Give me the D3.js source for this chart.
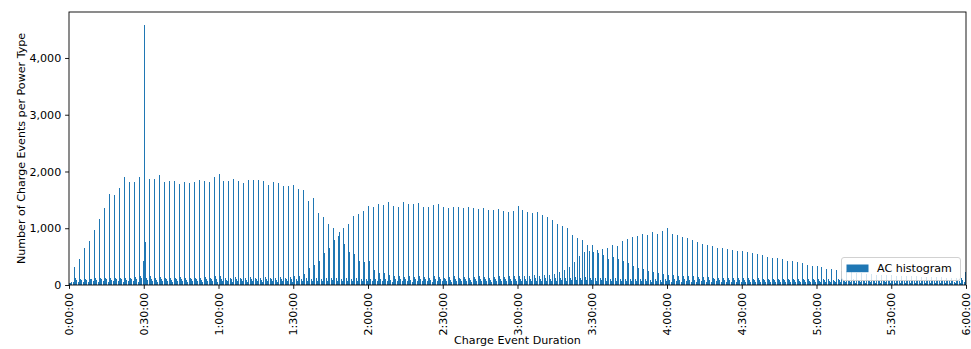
<!DOCTYPE html>
<html>
<head>
<meta charset="utf-8">
<script src="https://cdn.jsdelivr.net/npm/d3@7"></script>
<style>
  html, body { margin: 0; padding: 0; background: #fff; }
  svg { display: block; font-family: "DejaVu Sans", sans-serif; }
</style>
</head>
<body>
<svg id="chart" width="971" height="349"></svg>
<script>
// Histogram of AC charge event durations, 30-second bins over 0–6 h.
// Every 2-minute cycle holds four bins: the round-minute bin, the bin right
// after it, and two low in-between bins.
const binSeconds = 30;

// counts in the bin starting at minute 0, 2, 4, ... 358
const roundMinuteCounts = [
  30, 317, 458, 658, 775, 969, 1163, 1363, 1603, 1586,
  1703, 1903, 1809, 1809, 1903, 4581, 1868, 1868, 1938, 1809,
  1833, 1833, 1780, 1809, 1797, 1809, 1850, 1833, 1809, 1903,
  1950, 1833, 1833, 1862, 1833, 1797, 1850, 1850, 1850, 1833,
  1767, 1815, 1797, 1745, 1745, 1762, 1692, 1674, 1480, 1533,
  1269, 1192, 1075, 1004, 863, 1004, 1075, 1216, 1251, 1304,
  1392, 1374, 1427, 1410, 1462, 1392, 1374, 1462, 1427, 1427,
  1445, 1374, 1374, 1410, 1427, 1374, 1357, 1374, 1374, 1360,
  1380, 1350, 1340, 1350, 1330, 1320, 1340, 1300, 1280, 1300,
  1390, 1320, 1290, 1270, 1280, 1230, 1200, 1150, 1080, 1040,
  1000, 881, 822, 793, 705, 705, 617, 640, 660, 700,
  690, 780, 810, 840, 870, 900, 880, 930, 900, 960,
  1000, 900, 880, 850, 820, 790, 760, 730, 700, 680,
  660, 650, 640, 620, 600, 600, 580, 560, 540, 520,
  500, 480, 470, 450, 420, 420, 400, 380, 350, 330,
  340, 310, 290, 280, 260, 250, 240, 230, 220, 210,
  200, 190, 185, 180, 175, 170, 165, 160, 155, 150,
  150, 145, 140, 140, 135, 135, 130, 130, 125, 125
];

// counts in the bin starting 30 s after each round minute above
const afterCounts = [
  40, 120, 110, 100, 110, 120, 120, 130, 130, 120,
  130, 120, 130, 140, 160, 758, 150, 130, 140, 120,
  130, 120, 140, 120, 130, 120, 130, 140, 120, 150,
  160, 130, 120, 140, 130, 120, 140, 130, 130, 140,
  120, 130, 140, 130, 140, 150, 150, 194, 300, 352,
  423, 564, 652, 793, 934, 722, 581, 546, 423, 405,
  423, 264, 211, 211, 176, 160, 150, 140, 150, 140,
  150, 140, 130, 150, 140, 130, 140, 150, 130, 140,
  130, 140, 150, 140, 130, 140, 150, 140, 150, 160,
  150, 160, 150, 170, 160, 180, 180, 200, 235, 264,
  323, 411, 511, 587, 604, 587, 558, 529, 458, 500,
  458, 420, 380, 340, 300, 280, 250, 230, 210, 190,
  180, 170, 160, 160, 150, 150, 140, 140, 140, 130,
  130, 130, 120, 130, 120, 120, 120, 110, 120, 110,
  110, 110, 110, 100, 110, 100, 100, 110, 100, 100,
  100, 100, 100, 95, 100, 95, 95, 100, 95, 95,
  95, 90, 95, 90, 95, 90, 90, 95, 90, 90,
  90, 90, 85, 90, 85, 90, 85, 90, 85, 90
];

// counts in the bin starting at each odd minute
const oddMinuteCounts = [
  60, 90, 80, 90, 100, 90, 110, 100, 90, 110,
  100, 90, 110, 100, 120, 130, 110, 90, 100, 110,
  90, 100, 110, 90, 100, 110, 90, 100, 110, 100,
  110, 90, 100, 110, 100, 90, 110, 100, 90, 110,
  100, 90, 110, 100, 110, 100, 110, 120, 110, 120,
  110, 120, 130, 120, 110, 120, 110, 120, 110, 100,
  110, 100, 110, 100, 90, 100, 110, 100, 90, 100,
  110, 100, 90, 100, 110, 100, 90, 100, 110, 100,
  90, 100, 110, 100, 90, 100, 110, 100, 110, 100,
  110, 100, 110, 120, 110, 120, 110, 120, 130, 120,
  130, 140, 130, 140, 130, 120, 130, 120, 110, 120,
  110, 100, 110, 100, 110, 100, 90, 100, 90, 100,
  90, 100, 90, 100, 90, 90, 100, 90, 90, 100,
  90, 90, 85, 90, 85, 90, 85, 80, 85, 80,
  85, 80, 80, 85, 80, 80, 75, 80, 75, 80,
  75, 80, 75, 75, 80, 75, 75, 70, 75, 70,
  75, 70, 70, 75, 70, 70, 65, 70, 65, 70,
  65, 70, 65, 65, 70, 65, 65, 60, 65, 60
];

// counts in the bin starting 30 s after each odd minute
const lateCounts = [
  50, 60, 55, 60, 65, 60, 70, 60, 65, 70,
  60, 65, 70, 60, 423, 90, 70, 60, 65, 70,
  60, 65, 70, 60, 65, 70, 60, 65, 70, 60,
  65, 70, 60, 65, 70, 60, 65, 70, 60, 65,
  70, 60, 65, 70, 60, 65, 70, 75, 70, 75,
  70, 75, 80, 75, 70, 75, 70, 75, 70, 65,
  70, 65, 70, 65, 60, 65, 70, 65, 60, 65,
  70, 65, 60, 65, 70, 65, 60, 65, 70, 65,
  60, 65, 70, 65, 60, 65, 70, 65, 70, 65,
  70, 65, 70, 75, 70, 75, 70, 75, 80, 75,
  80, 85, 80, 85, 80, 75, 80, 75, 70, 75,
  70, 65, 70, 65, 70, 65, 60, 65, 60, 65,
  60, 65, 60, 65, 60, 60, 65, 60, 60, 65,
  60, 60, 55, 60, 55, 60, 55, 50, 55, 50,
  55, 50, 50, 55, 50, 50, 45, 50, 45, 50,
  45, 50, 45, 45, 50, 45, 45, 40, 45, 40,
  45, 40, 40, 45, 40, 40, 35, 40, 35, 40,
  35, 40, 35, 35, 40, 35, 35, 30, 35, 230
];

const yTickValues = [0, 1000, 2000, 3000, 4000];
const xTickSeconds = [0, 1800, 3600, 5400, 7200, 9000, 10800, 12600, 14400, 16200, 18000, 19800, 21600];
const seriesName = "AC histogram";
const xTitle = "Charge Event Duration";
const yTitle = "Number of Charge Events per Power Type";

// flatten the four per-cycle series into one ordered list of bins
const bins = [];
roundMinuteCounts.forEach((_, k) => {
  const start = k * 120;
  [roundMinuteCounts[k], afterCounts[k], oddMinuteCounts[k], lateCounts[k]].forEach((c, j) => {
    bins.push({ x0: start + j * binSeconds, x1: start + (j + 1) * binSeconds, count: c });
  });
});

const W = 971, H = 349;
const margin = { left: 69, right: 5, top: 12, bottom: 64 };
const fontPx = 11.1;
const color = "#1f77b4";

const svg = d3.select("#chart");
const x = d3.scaleLinear().domain([0, 21600]).range([margin.left, W - margin.right]);
const yMax = d3.max(bins, d => d.count) * 1.05;
const y = d3.scaleLinear().domain([0, yMax]).range([H - margin.bottom, margin.top]);

const fmtDuration = s => {
  const h = Math.floor(s / 3600), m = Math.floor((s % 3600) / 60), sec = s % 60;
  return `${h}:${String(m).padStart(2, "0")}:${String(sec).padStart(2, "0")}`;
};

// bars
const barW = Math.max(1, (x(binSeconds) - x(0)) * 0.8);
svg.append("g")
  .attr("shape-rendering", "crispEdges")
  .selectAll("rect")
  .data(bins.filter(d => d.count > 0))
  .join("rect")
  .attr("x", d => x(d.x0))
  .attr("width", barW)
  .attr("y", d => y(d.count))
  .attr("height", d => y(0) - y(d.count))
  .attr("fill", color);

// axes
const tickLen = 3.9;
const xAxis = d3.axisBottom(x).tickValues(xTickSeconds).tickFormat(fmtDuration)
  .tickSizeInner(tickLen).tickSizeOuter(0).tickPadding(3.9);
const gx = svg.append("g").attr("transform", `translate(0,${y(0)})`).call(xAxis);
gx.select(".domain").remove();
gx.selectAll(".tick line").attr("stroke", "#000").attr("stroke-width", 0.9);
gx.selectAll(".tick text")
  .attr("font-size", fontPx)
  .attr("font-family", "DejaVu Sans")
  .attr("fill", "#000")
  .attr("text-anchor", "end")
  .attr("y", 0).attr("dy", "0.33em")
  .attr("transform", `translate(0,${tickLen + 3.9}) rotate(-90)`)
  .attr("x", 0);

const yAxis = d3.axisLeft(y).tickValues(yTickValues).tickFormat(d3.format(","))
  .tickSizeInner(tickLen).tickSizeOuter(0).tickPadding(3.9);
const gy = svg.append("g").attr("transform", `translate(${margin.left},0)`).call(yAxis);
gy.select(".domain").remove();
gy.selectAll(".tick line").attr("stroke", "#000").attr("stroke-width", 0.9);
gy.selectAll(".tick text").attr("font-size", fontPx).attr("font-family", "DejaVu Sans").attr("fill", "#000");

// frame
svg.append("rect")
  .attr("x", margin.left).attr("y", margin.top)
  .attr("width", x(21600) - margin.left).attr("height", y(0) - margin.top)
  .attr("fill", "none").attr("stroke", "#000").attr("stroke-width", 0.9);

// axis titles
svg.append("text")
  .attr("x", (x(0) + x(21600)) / 2).attr("y", 344)
  .attr("text-anchor", "middle").attr("font-size", fontPx).text(xTitle);
svg.append("text")
  .attr("transform", `translate(25,${(y(0) + margin.top) / 2}) rotate(-90)`)
  .attr("text-anchor", "middle").attr("font-size", fontPx).text(yTitle);

// legend
const lg = svg.append("g").attr("transform", `translate(${x(21600) - 125},${y(0) - 28})`);
lg.append("rect").attr("x", 0.5).attr("y", 0.5).attr("width", 119).attr("height", 23).attr("rx", 2.5)
  .attr("fill", "#fff").attr("fill-opacity", 0.8).attr("stroke", "#cccccc").attr("stroke-width", 0.9);
lg.append("rect").attr("x", 5.5).attr("y", 7.5).attr("width", 22).attr("height", 7.7).attr("fill", color);
lg.append("text").attr("x", 36).attr("y", 15.3).attr("font-size", fontPx).text(seriesName);
</script>
</body>
</html>
